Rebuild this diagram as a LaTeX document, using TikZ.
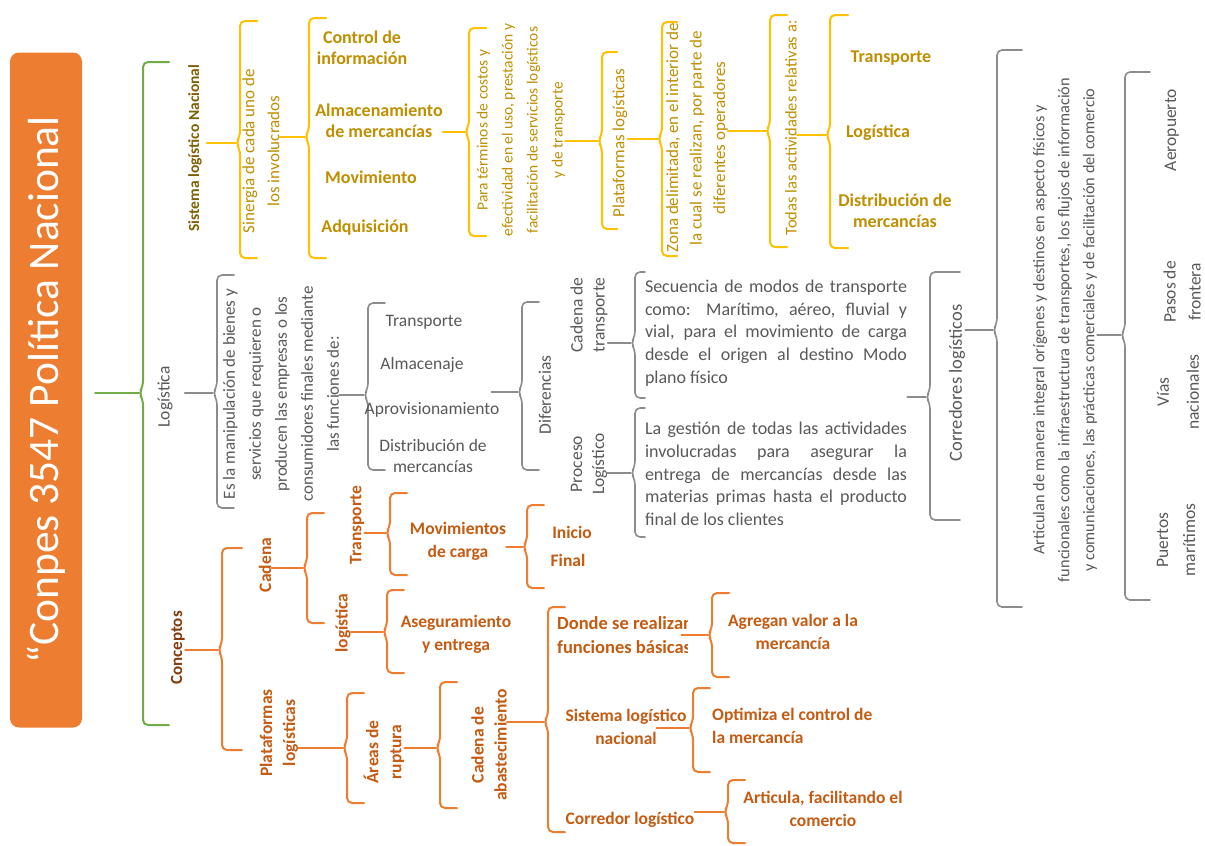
\documentclass[tikz,border=0pt]{standalone}
\usepackage{fontspec}
\setmainfont{Carlito}
\usetikzlibrary{calc}
\hyphenpenalty=10000
\exhyphenpenalty=10000

\definecolor{ylw}{HTML}{FFC000}
\definecolor{ytx}{HTML}{BF8F00}
\definecolor{ydk}{HTML}{7F6000}
\definecolor{gln}{HTML}{8C8C8C}
\definecolor{gtx}{HTML}{595959}
\definecolor{org}{HTML}{ED7D31}
\definecolor{otx}{HTML}{C55A11}
\definecolor{odk}{HTML}{843C0C}
\definecolor{grn}{HTML}{70AD47}

\newcommand\fs[2]{\fontsize{#1}{#2}\selectfont}

% bracket opening to the right: style, tip name, x, top, bottom, middle, arm length
\newcommand\brc[7]{%
  \coordinate (#2) at (#3-4,#6);
  \draw[#1, rounded corners=5pt] (#3+#7,#4) -- (#3,#4) -- (#3,#6-7) -- (#3-4,#6)
    -- (#3,#6+7) -- (#3,#5) -- (#3+#7,#5);}

\tikzset{
  yl/.style={draw=ylw, line width=2pt},
  gl/.style={draw=gln, line width=1.6pt},
  ol/.style={draw=org, line width=2pt},
  grl/.style={draw=grn, line width=2pt},
  txt/.style={inner sep=0pt, align=center},
  up/.style={rotate=90},
  fnt/.style 2 args={font=\fs{#1}{#2}},
  bfnt/.style 2 args={font=\bfseries\fs{#1}{#2}},
  ydark/.style={txt, text=ydk, bfnt={15.5}{19}},
  ybody/.style={txt, text=ytx, fnt={17}{25}},
  yitem/.style={txt, text=ytx, bfnt={18}{21}},
  gbody/.style={txt, text=gtx, fnt={17.5}{25}},
  gitem/.style={txt, text=gtx, fnt={17.5}{21}},
  gpara/.style={inner sep=0pt, text=gtx, fnt={18}{22.6}, text width=262pt, align=justify},
  otext/.style={txt, text=otx, bfnt={17.5}{23}},
  odark/.style={txt, text=odk, bfnt={17}{20}},
  title/.style={fill=org, rounded corners=9pt, text=white, fnt={43.5}{48},
    minimum width=675pt, minimum height=72pt, inner sep=0pt},
}

\begin{document}
\begin{tikzpicture}[x=1pt, y=-1pt, line cap=round, line join=round]
\useasboundingbox (0,0) rectangle (1205,846);
\fill[white] (0,0) rectangle (1205,846);

% ---------- root ----------
\node[title, up] (title) at (46,390) {“Conpes 3547 Política Nacional};
\brc{grl}{g0}{143}{62}{725}{393}{26}
\draw[grl] ($(title.south |- g0)+(13,0)$) -- (g0);

% ---------- Sistema logístico Nacional ----------
\node[ydark, up] (sln) at (195,148) {Sistema logístico Nacional};
\brc{yl}{y1}{240}{21}{258}{143}{17}
\draw[yl] ($(sln.south |- y1)+(5,0)$) -- (y1);

\node[ybody, up] (syn) at (261,151) {Sinergia de cada uno de\\los involucrados};
\brc{yl}{y2}{309}{18}{258}{137}{17}
\draw[yl] (syn.south |- y2) -- (y2);

\node[yitem] (ctrl) at (362,48) {Control de\\información};
\node[yitem] (alm) at (379,121) {Almacenamiento\\de mercancías};
\node[yitem] (mov) at (371,177) {Movimiento};
\node[yitem] (adq) at (365,228) {Adquisición};

\brc{yl}{y3}{469}{28}{236}{132}{17}
\draw[yl] (alm.east |- y3) -- (y3);

\node[ybody, up, fnt={15.5}{25}] (para) at (521,130)
  {Para términos de costos y\\efectividad en el uso, prestación y\\facilitación de servicios logísticos\\y de transporte};
\brc{yl}{y4}{602}{52}{229}{141}{15}
\draw[yl] (para.south |- y4) -- (y4);

\node[ybody, up] (plat) at (620,143) {Plataformas logísticas};
\brc{yl}{y5}{662}{22}{256}{139}{15}
\draw[yl] (plat.south |- y5) -- (y5);

\node[ybody, up, fnt={17}{23.5}] (zona) at (697,138)
  {Zona delimitada, en el interior de\\la cual se realizan, por parte de\\diferentes operadores};
\brc{yl}{y6}{770}{15}{247}{131}{17}
\draw[yl] (zona.south |- y6) -- (y6);

\node[ybody, up, fnt={16.5}{25}] (todas) at (791,128) {Todas las actividades relativas a:};
\brc{yl}{y7}{830}{15}{248}{135}{18}
\draw[yl] (todas.south |- y7) -- (y7);

\node[yitem] (ytr) at (891,58) {Transporte};
\node[yitem] (ylg) at (878,133) {Logística};
\node[yitem] (yds) at (895,211) {Distribución de\\mercancías};

% ---------- Logística ----------
\node[gbody, up] (glog) at (165,397) {Logística};
\brc{gl}{g1}{217}{275}{508}{393}{17}
\draw[gl] ($(glog.south |- g1)+(12,0)$) -- (g1);

\node[gbody, up, fnt={17}{26}] (esla) at (281,394)
  {Es la manipulación de bienes y\\servicios que requieren o\\producen las empresas o los\\consumidores finales mediante\\las funciones de:};
\brc{gl}{g2}{368}{303}{470}{395}{17}
\draw[gl] (esla.south |- g2) -- (g2);

\node[gitem] (gtr) at (424,322) {Transporte};
\node[gitem] (gal) at (422,365) {Almacenaje};
\node[gitem] (gap) at (432,410) {Aprovisionamiento};
\node[gitem] (gds) at (433,456) {Distribución de\\mercancías};

\brc{gl}{g3}{522}{302}{470}{392}{17}
\draw[gl] ($(gap.east |- g3)+(-8,0)$) -- (g3);

\node[gbody, up] (dif) at (545,395) {Diferencias};
\node[gbody, up, fnt={17.5}{22}] (cad) at (589,315) {Cadena de\\transporte};
\node[gbody, up, fnt={17.5}{22}] (pro) at (589,464) {Proceso\\Logístico};

\brc{gl}{g4}{635}{272}{398}{343}{10}
\draw[gl] (cad.south |- g4) -- (g4);
\brc{gl}{g5}{635}{408}{537}{473}{10}
\draw[gl] (pro.south |- g5) -- (g5);

\node[gpara] (sec) at (776,333)
  {Secuencia de modos de transporte\linebreak como: Marítimo, aéreo, fluvial y\linebreak vial, para el movimiento de carga\linebreak desde el origen al destino Modo\linebreak plano físico};
\node[gpara] (ges) at (776,474)
  {La gestión de todas las actividades\linebreak involucradas para asegurar la\linebreak entrega de mercancías desde las\linebreak materias primas hasta el producto\linebreak final de los clientes};

\brc{gl}{g6}{930}{272}{520}{397}{30}
\draw[gl] (sec.east |- g6) -- (g6);

\node[gbody, up, fnt={18.5}{22}] (cor) at (957,383) {Corredores logísticos};
\brc{gl}{g7}{997}{50}{607}{330}{25}
\draw[gl] (cor.south |- g7) -- (g7);

\node[gbody, up, fnt={16.3}{25}] (art) at (1065,330)
  {Articulan de manera integral orígenes y destinos en aspecto físicos y\\funcionales como la infraestructura de transportes, los flujos de información\\y comunicaciones, las prácticas comerciales y de facilitación del comercio};
\brc{gl}{g8}{1125}{72}{600}{335}{25}
\draw[gl] (art.south |- g8) -- (g8);

\node[gbody, up] (aer) at (1172,130) {Aeropuerto};
\node[gbody, up, fnt={17.5}{25}] (pas) at (1182,292) {Pasos de\\frontera};
\node[gbody, up, fnt={17.5}{30}] (via) at (1178,392) {Vías\\nacionales};
\node[gbody, up, fnt={17.5}{27}] (pue) at (1176,540) {Puertos\\marítimos};

% ---------- Conceptos ----------
\node[odark, up] (con) at (178,648) {Conceptos};
\brc{ol}{o1}{222}{548}{750}{650}{20}
\draw[ol] (con.south |- o1) -- (o1);

\node[otext, up] (cad2) at (265,565) {Cadena};
\brc{ol}{o2}{307}{513}{623}{568}{17}
\draw[ol] (cad2.south |- o2) -- (o2);

\node[otext, up] (otr) at (357,525) {Transporte};
\node[otext, up] (olg) at (343,623) {logística};

\brc{ol}{o3}{390}{493}{575}{533}{17}
\draw[ol] (otr.south |- o3) -- (o3);
\node[otext] (mvc) at (458,541) {Movimientos\\de carga};
\brc{ol}{o4}{527}{505}{588}{547}{17}
\draw[ol] (mvc.east |- o4) -- (o4);
\node[otext] (ini) at (572,532) {Inicio};
\node[otext] (fin) at (568,560) {Final};

\brc{ol}{o5}{387}{590}{673}{632}{17}
\draw[ol] (olg.south |- o5) -- (o5);
\node[otext] (ase) at (456,634) {Aseguramiento\\y entrega};

\node[otext, up] (plg) at (279,733) {Plataformas\\logísticas};
\brc{ol}{o6}{347}{693}{803}{748}{17}
\draw[ol] (plg.south |- o6) -- (o6);

\node[otext, up] (are) at (384,752) {Áreas de\\ruptura};
\brc{ol}{o7}{440}{682}{808}{748}{17}
\draw[ol] (are.south |- o7) -- (o7);

\node[otext, up] (cab) at (489,745) {Cadena de\\abastecimiento};
\brc{ol}{o8}{548}{607}{832}{722}{17}
\draw[ol] (cab.south |- o8) -- (o8);

\begin{scope}
  \clip (550,595) rectangle (687,665);
  \node[otext, align=left, anchor=west, bfnt={18.5}{24}] (don) at (557,635)
    {Donde se realizan\\funciones básicas};
\end{scope}
\brc{ol}{o9}{712}{593}{677}{635}{17}
\draw[ol] ($(don.east |- o9)+(-12,0)$) -- (o9);
\node[otext] (agr) at (793,632) {Agregan valor a la\\mercancía};

\node[otext] (sis) at (626,727) {Sistema logístico\\nacional};
\brc{ol}{o10}{693}{688}{772}{728}{17}
\draw[ol] ($(sis.east |- o10)+(-30,0)$) -- (o10);
\node[otext, align=left, anchor=west] (opt) at (712,726) {Optimiza el control de\\la mercancía};

\node[otext] (cor2) at (630,820) {Corredor logístico};
\brc{ol}{o11}{728}{780}{843}{812}{17}
\draw[ol] (cor2.east |- o11) -- (o11);
\node[otext] (art2) at (823,809) {Articula, facilitando el\\comercio};
\end{tikzpicture}
\end{document}
